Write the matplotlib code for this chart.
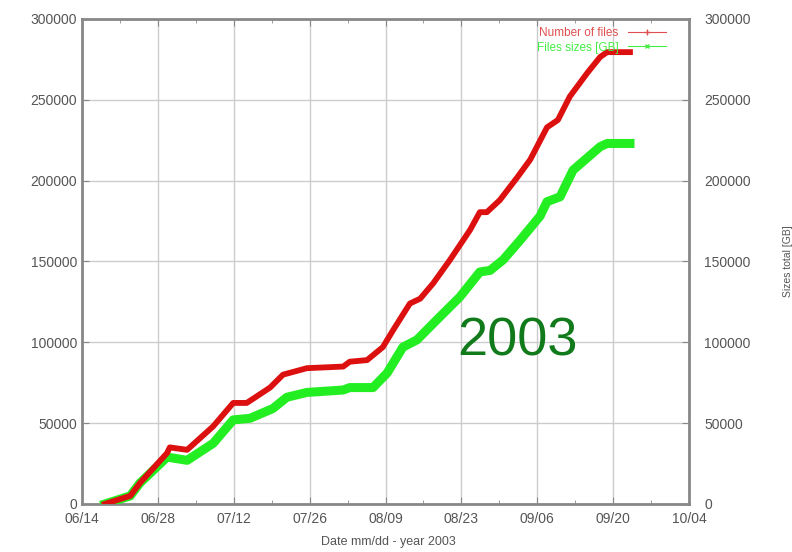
import pandas as pd
import matplotlib
matplotlib.use("Agg")
import matplotlib.pyplot as plt
import matplotlib.dates as mdates
from matplotlib.lines import Line2D

plt.rcParams['font.family'] = ['Liberation Sans', 'DejaVu Sans']

# days after 2003-06-14
start = pd.Timestamp("2003-06-14")
files_days = [4.2, 8.9, 10.7, 15.7, 16.2, 19.4, 24.2, 27.9, 30.4, 34.7, 37.1, 41.5, 48.2, 49.4,
              52.6, 55.5, 57.4, 60.5, 62.4, 64.8, 67.9, 71.6, 73.4, 74.7, 77.1, 80.3, 82.7,
              85.8, 87.8, 90.0, 93.2, 95.6, 96.9, 101.1]
files_count = [0, 5000, 13000, 31500, 35000, 33500, 48000, 62500, 62500, 72000, 80000, 84000,
               85000, 88000, 89000, 97000, 107500, 124000, 127000, 136500, 151000, 169500,
               180500, 180500, 188000, 202000, 213000, 233000, 237500, 252000, 266500, 276500,
               279500, 279500]

size_days = [4.2, 6.1, 8.9, 10.7, 15.7, 19.4, 24.2, 27.9, 31.0, 35.2, 37.8, 41.5, 48.2, 49.4,
             53.7, 56.3, 59.2, 61.8, 65.5, 69.7, 73.4, 75.3, 77.7, 80.8, 84.5, 85.8, 88.2,
             90.6, 95.6, 96.9, 101.1]
size_gb = [0, 2000, 5000, 13000, 29000, 27000, 37500, 52000, 53000, 59000, 66000, 69000,
           70500, 72000, 72000, 81000, 97000, 101500, 114000, 128000, 143500, 144500, 151000,
           163000, 178000, 187000, 190000, 206500, 221000, 223000, 223000]

x_files = [start + pd.Timedelta(days=d) for d in files_days]
x_size = [start + pd.Timedelta(days=d) for d in size_days]

red = '#dd1010'
green = '#22ee22'
grey = '#555555'

fig = plt.figure(figsize=(7.92, 5.52), dpi=100)
ax = fig.add_axes([0.1035, 0.087, 0.7665, 0.8786])

ax.plot(x_size, size_gb, color=green, lw=6.5, solid_joinstyle='round', zorder=3)
ax.plot(x_files, files_count, color=red, lw=4.2, solid_joinstyle='round', zorder=4)

ax.set_xlim(start, pd.Timestamp("2003-10-04"))
ax.set_ylim(0, 300000)
ax.set_yticks(range(0, 300001, 50000))
ax.set_xticks(pd.date_range(start, "2003-10-04", freq="14D"))
ax.set_xticks(pd.date_range(start, "2003-10-04", freq="7D"), minor=True)
ax.xaxis.set_major_formatter(mdates.DateFormatter("%m/%d"))

ax.grid(True, which='major', color='#cccccc', lw=1.0)
ax.set_axisbelow(True)
for s in ax.spines.values():
    s.set_color('#888888')
    s.set_linewidth(2)
ax.tick_params(direction='in', which='both', top=True, right=False, colors='#888888',
               labelcolor=grey, labelsize=10)
ax.tick_params(which='major', length=5)
ax.tick_params(which='minor', length=3)
ax.tick_params(axis='x', pad=6)

ax2 = ax.twinx()
ax2.set_ylim(0, 300000)
ax2.set_yticks(range(0, 300001, 50000))
ax2.tick_params(direction='in', colors='#888888', labelcolor=grey, labelsize=10, length=5,
                pad=11)
for s in ax2.spines.values():
    s.set_visible(False)
ax2.set_ylabel("Sizes total [GB]", color=grey, fontsize=7.5)
ax2.yaxis.set_label_coords(1.155, 0.5)

ax.set_xlabel("Date mm/dd - year 2003", color=grey, fontsize=9)
ax.xaxis.set_label_coords(0.505, -0.065)

ax.text(0.717, 0.335, "2003", transform=ax.transAxes, color='#117a1a', fontsize=39,
        ha='center', va='center')

handles = [Line2D([], [], color='#e05050', lw=0.8, marker='+', markersize=4),
           Line2D([], [], color='#44ee44', lw=0.8, marker='x', markersize=3)]
leg = ax.legend(handles, ["Number of files", "Files sizes [GB]"], loc='upper right',
                frameon=False, markerfirst=False, fontsize=8.5, handlelength=3.2,
                borderaxespad=0.3, labelspacing=0.2, bbox_to_anchor=(0.975, 1.0))
leg.get_texts()[0].set_color('#e05050')
leg.get_texts()[1].set_color('#44ee44')

fig.savefig("out.png", dpi=100)
